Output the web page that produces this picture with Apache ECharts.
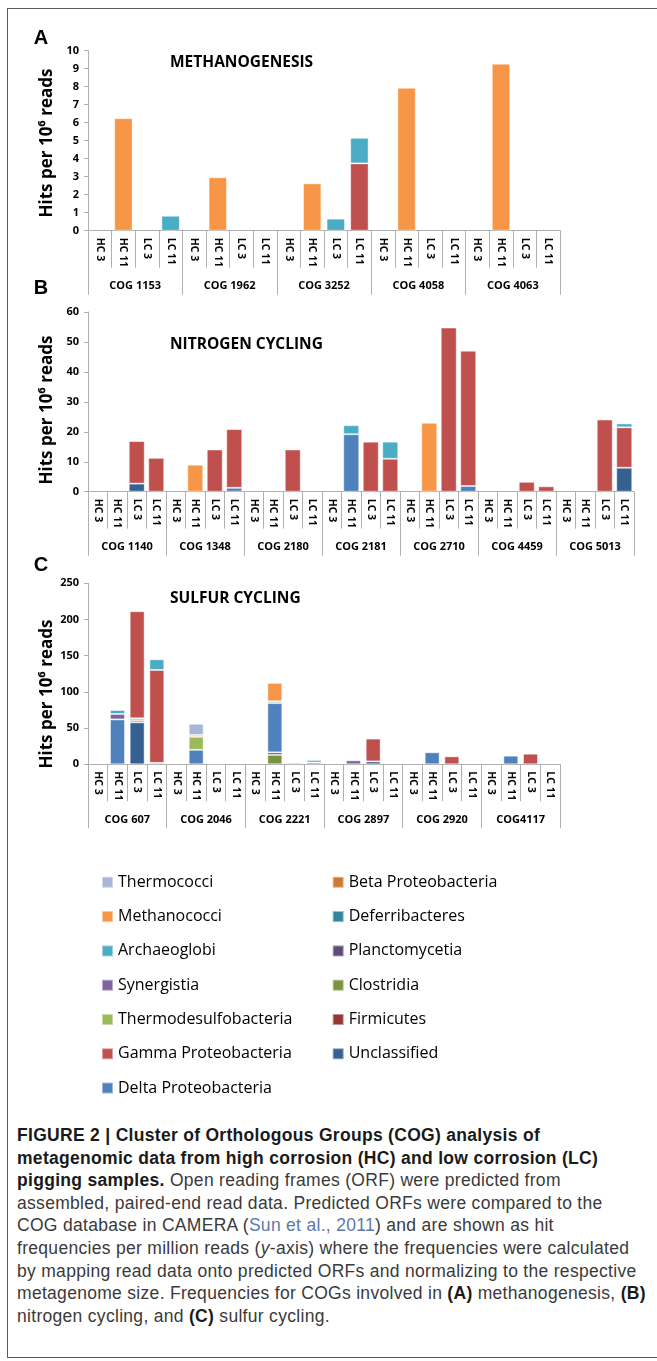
<!DOCTYPE html>
<html><head><meta charset="utf-8">
<script src="https://cdn.jsdelivr.net/npm/echarts@6/dist/echarts.min.js"></script>
<style>
html,body{margin:0;padding:0;background:#fff;width:657px;height:1361px;overflow:hidden;}
#frame{position:absolute;left:7px;top:8px;width:700px;height:1350px;border-top:1.5px solid #5a5a5a;border-left:1.5px solid #5a5a5a;border-bottom:1.5px solid #5a5a5a;box-sizing:border-box;}
#chart{position:absolute;left:0;top:0;width:657px;height:1110px;}
#caption{position:absolute;left:17px;top:1124px;font-family:'Liberation Sans',Arial,sans-serif;font-size:17.5px;letter-spacing:0.3px;line-height:22.6px;color:#3a3a3a;white-space:nowrap;}
#caption b{color:#1a1a1a;}
.ref{color:#5b7aa8;}
</style></head><body>
<div id="frame"></div>
<div id="chart"></div>
<div id="caption">
<div><b>FIGURE 2 | Cluster of Orthologous Groups (COG) analysis of</b></div>
<div><b>metagenomic data from high corrosion (HC) and low corrosion (LC)</b></div>
<div><b>pigging samples.</b> Open reading frames (ORF) were predicted from</div>
<div>assembled, paired-end read data. Predicted ORFs were compared to the</div>
<div>COG database in CAMERA (<span class="ref">Sun et al., 2011</span>) and are shown as hit</div>
<div>frequencies per million reads (<i>y</i>-axis) where the frequencies were calculated</div>
<div>by mapping read data onto predicted ORFs and normalizing to the respective</div>
<div>metagenome size. Frequencies for COGs involved in <b>(A)</b> methanogenesis, <b>(B)</b></div>
<div>nitrogen cycling, and <b>(C)</b> sulfur cycling.</div>
</div>
<script>
// ---------- DATA ----------
const samples = ['HC 3', 'HC 11', 'LC 3', 'LC 11'];
const cogsA = ['COG 1153', 'COG 1962', 'COG 3252', 'COG 4058', 'COG 4063'];
const cogsB = ['COG 1140', 'COG 1348', 'COG 2180', 'COG 2181', 'COG 2710', 'COG 4459', 'COG 5013'];
const cogsC = ['COG 607', 'COG 2046', 'COG 2221', 'COG 2897', 'COG 2920', 'COG4117'];

const yTicksA = {max: 10, interval: 1};
const yTicksB = {max: 60, interval: 10};
const yTicksC = {max: 250, interval: 50};

// Panel A: methanogenesis (values per sample, grouped by COG)
const A_Gamma        = [0,0,0,0,    0,0,0,0,    0,0,0,3.74,    0,0,0,0,    0,0,0,0];
const A_Archaeoglobi = [0,0,0,0.83, 0,0,0,0,    0,0,0.67,1.42, 0,0,0,0,    0,0,0,0];
const A_Methanococci = [0,6.25,0,0, 0,2.97,0,0, 0,2.63,0,0,    0,7.94,0,0, 0,9.28,0,0];

// Panel B: nitrogen cycling
const B_Unclassified = [0,0,2.7,0,     0,0,0,0,       0,0,0,0,    0,0,0,0,       0,0,0,0,       0,0,0,0,     0,0,0,8.0];
const B_Delta        = [0,0,0,0,       0,0,0,1.3,     0,0,0,0,    0,19.2,0,0,    0,0,0,1.9,     0,0,0,0,     0,0,0,0];
const B_Gamma        = [0,0,14.2,11.3, 0,0,14.1,19.6, 0,0,14.1,0, 0,0,16.7,11.0, 0,0,54.8,45.2, 0,0,3.3,1.8, 0,0,24.1,13.5];
const B_Archaeoglobi = [0,0,0,0,       0,0,0,0,       0,0,0,0,    0,3.0,0,5.7,   0,0,0,0,       0,0,0,0,     0,0,0,1.3];
const B_Methanococci = [0,0,0,0,       0,9.0,0,0,     0,0,0,0,    0,0,0,0,       0,23.0,0,0,    0,0,0,0,     0,0,0,0];

// Panel C: sulfur cycling
const C_Unclassified    = [0,0,58,0,        0,0,0,0,      0,0,0,0,       0,0,4,0,    0,0,0,0,    0,0,0,0];
const C_Firmicutes      = [0,0,0,0,         0,0,0,0,      0,0,0,0,       0,0,0,0,    0,0,0,0,    0,0,0,0];
const C_Clostridia      = [0,0,0,0,         0,0,0,0,      0,13,0,0,      0,0,0,0,    0,0,0,0,    0,0,0,0];
const C_Planctomycetia  = [0,0,0,0,         0,0,0,0,      0,3.5,0,0,     0,0,0,0,    0,0,0,0,    0,0,0,0];
const C_Deferribacteres = [0,0,0,0,         0,0,0,0,      0,0,0,0,       0,0,0,0,    0,0,0,0,    0,0,0,0];
const C_Beta            = [0,0,3,0,         0,0,0,0,      0,0,0,0,       0,0,0,0,    0,0,0,0,    0,0,0,0];
const C_Delta           = [0,62,2.5,2,      0,20,0,0,     0,68,2,2.5,    0,0,0,0,    0,16.6,0,0, 0,11.9,0,0];
const C_Gamma           = [0,0,148,128.3,   0,0,0,0,      0,0,0,0,       0,0,31.5,0, 0,0,11,0,   0,0,14.6,0];
const C_Thermodesulfo   = [0,0,0,0,         0,18,1.5,0,   0,0,0,0,       0,0,0,0,    0,0,0,0,    0,0,0,0];
const C_Synergistia     = [0,7.5,0,0,       0,0,0,0,      0,0,0,0,       0,5.5,0,0,  0,0,0,0,    0,0,0,0];
const C_Archaeoglobi    = [0,5.5,0,14.7,    0,0,0,0,      0,2.5,1.2,3.5, 0,0,0,0,    0,0,0,0,    0,0,0,0];
const C_Methanococci    = [0,0,0,0,         0,2.5,0,0,    0,25.5,0,0,    0,0,0,0,    0,0,0,0,    0,0,0,0];
const C_Thermococci     = [0,0,0,0,         0,15.5,0,0,   0,0,0,0,       0,0,0,0,    0,0,0,0,    0,0,0,0];

const legendLeft  = ['Thermococci', 'Methanococci', 'Archaeoglobi', 'Synergistia', 'Thermodesulfobacteria', 'Gamma Proteobacteria', 'Delta Proteobacteria'];
const legendRight = ['Beta Proteobacteria', 'Deferribacteres', 'Planctomycetia', 'Clostridia', 'Firmicutes', 'Unclassified'];

// ---------- STYLE ----------
const colors = {
  'Thermococci': '#a7b6d9',
  'Methanococci': '#f79646',
  'Archaeoglobi': '#4bacc6',
  'Synergistia': '#8064a2',
  'Thermodesulfobacteria': '#9bbb59',
  'Gamma Proteobacteria': '#c0504d',
  'Delta Proteobacteria': '#4f81bd',
  'Beta Proteobacteria': '#cc7a36',
  'Deferribacteres': '#31859c',
  'Planctomycetia': '#604a7b',
  'Clostridia': '#77933c',
  'Firmicutes': '#953735',
  'Unclassified': '#376092'
};
const FONT = '"Open Sans", "Liberation Sans", sans-serif';
const AX = '#b0b0b0';

const panels = [
  {cogs: cogsA, y: yTicksA, grid: {left: 88, top: 50.7, width: 472, height: 180}, gap: '22%', stack: 'A',
   series: [['Gamma Proteobacteria', A_Gamma], ['Archaeoglobi', A_Archaeoglobi], ['Methanococci', A_Methanococci]]},
  {cogs: cogsB, y: yTicksB, grid: {left: 88, top: 312, width: 546, height: 179.7}, gap: '18%', stack: 'B',
   series: [['Unclassified', B_Unclassified], ['Delta Proteobacteria', B_Delta], ['Gamma Proteobacteria', B_Gamma],
            ['Archaeoglobi', B_Archaeoglobi], ['Methanococci', B_Methanococci]]},
  {cogs: cogsC, y: yTicksC, grid: {left: 88, top: 583.3, width: 472, height: 181}, gap: '24%', stack: 'C',
   series: [['Unclassified', C_Unclassified], ['Firmicutes', C_Firmicutes], ['Clostridia', C_Clostridia],
            ['Planctomycetia', C_Planctomycetia], ['Deferribacteres', C_Deferribacteres], ['Beta Proteobacteria', C_Beta],
            ['Delta Proteobacteria', C_Delta], ['Gamma Proteobacteria', C_Gamma], ['Thermodesulfobacteria', C_Thermodesulfo],
            ['Synergistia', C_Synergistia], ['Archaeoglobi', C_Archaeoglobi], ['Methanococci', C_Methanococci],
            ['Thermococci', C_Thermococci]]}
];

const grids = [], xAxes = [], yAxes = [], series = [];
panels.forEach((p, i) => {
  grids.push(p.grid);
  const sampleCats = [];
  p.cogs.forEach(() => samples.forEach(s => sampleCats.push(s)));
  xAxes.push({
    type: 'category', gridIndex: i, data: sampleCats, position: 'bottom', boundaryGap: true,
    axisLine: {show: true, lineStyle: {color: AX, width: 1}},
    axisTick: {show: true, interval: 0, length: 37, lineStyle: {color: AX}},
    axisLabel: {interval: 0, rotate: -90, margin: 7, color: '#000', fontFamily: FONT, fontWeight: 'bold', fontSize: 10.5}
  });
  xAxes.push({
    type: 'category', gridIndex: i, data: p.cogs, position: 'bottom', boundaryGap: true,
    axisLine: {show: false},
    axisTick: {show: true, interval: 0, length: 64, lineStyle: {color: AX}},
    axisLabel: {interval: 0, margin: 50, color: '#000', fontFamily: FONT, fontWeight: 'bold', fontSize: 11}
  });
  yAxes.push({
    type: 'value', gridIndex: i, min: 0, max: p.y.max, interval: p.y.interval,
    axisLine: {show: true, lineStyle: {color: AX}},
    axisTick: {show: true, length: 4, lineStyle: {color: AX}},
    splitLine: {show: false},
    axisLabel: {margin: 9, color: '#000', fontFamily: FONT, fontWeight: 'bold', fontSize: 11}
  });
  p.series.forEach(([name, vals]) => {
    series.push({
      type: 'bar', name: name, stack: p.stack, xAxisIndex: i * 2, yAxisIndex: i,
      barCategoryGap: p.gap,
      itemStyle: {color: colors[name], borderColor: 'rgba(255,255,255,0.45)', borderWidth: 1},
      emphasis: {disabled: true},
      data: vals.map(v => (v === 0 ? null : v))
    });
  });
});

const txt = (text, x, y, font, align, rot) => ({
  type: 'text', x: x, y: y, rotation: rot || 0, silent: true,
  style: {text: text, font: font, fill: '#000', textAlign: align, align: align, textVerticalAlign: 'middle', verticalAlign: 'middle'}
});
const letterFont = 'bold 20px "Liberation Sans", Arial, sans-serif';
const titleFont = 'bold 15.5px ' + FONT;
const yNameFont = 'bold 17px ' + FONT;

const graphic = [
  txt('A', 41, 38, letterFont, 'center'),
  txt('B', 41, 288, letterFont, 'center'),
  txt('C', 41, 565, letterFont, 'center'),
  txt('METHANOGENESIS', 170, 63, titleFont, 'left'),
  txt('NITROGEN CYCLING', 170, 345, titleFont, 'left'),
  txt('SULFUR CYCLING', 170, 599, titleFont, 'left'),
  txt('Hits per 10⁶ reads', 47, 143, yNameFont, 'center', Math.PI / 2),
  txt('Hits per 10⁶ reads', 47, 410, yNameFont, 'center', Math.PI / 2),
  txt('Hits per 10⁶ reads', 47, 694, yNameFont, 'center', Math.PI / 2)
];

const legendCommon = {
  orient: 'vertical', icon: 'rect', itemWidth: 11, itemHeight: 11, itemGap: 18.3,
  selectedMode: false, top: 869.3,
  textStyle: {fontFamily: FONT, fontSize: 16, color: '#000', lineHeight: 16}
};

const chart = echarts.init(document.getElementById('chart'), null, {renderer: 'canvas'});
chart.setOption({
  animation: false,
  grid: grids,
  xAxis: xAxes,
  yAxis: yAxes,
  series: series,
  graphic: graphic,
  legend: [
    Object.assign({left: 96, data: legendLeft}, legendCommon),
    Object.assign({left: 326.7, data: legendRight}, legendCommon)
  ]
});
</script>
</body></html>
